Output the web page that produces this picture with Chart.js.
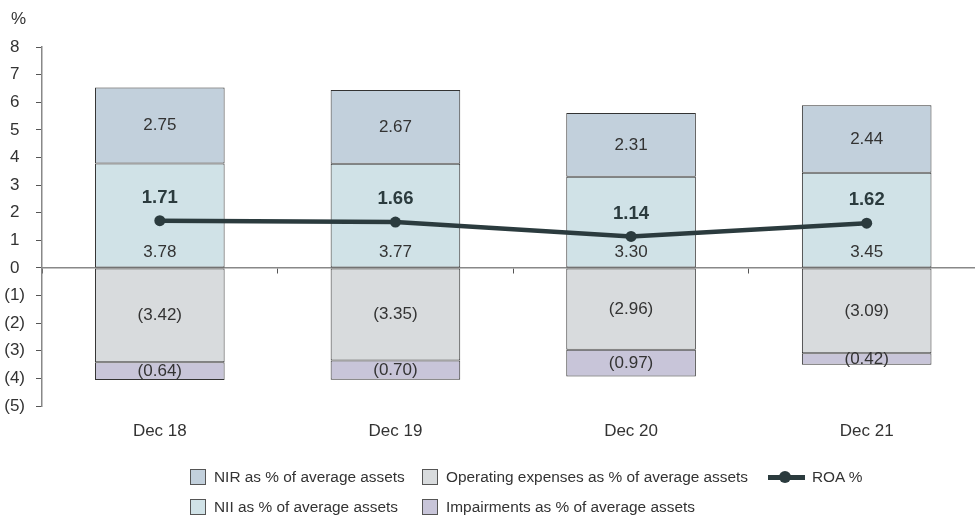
<!DOCTYPE html>
<html><head><meta charset="utf-8">
<script src="https://cdn.jsdelivr.net/npm/chart.js@4"></script>
<style>
html,body{margin:0;padding:0;overflow:hidden;background:#fff;width:975px;height:517px;position:relative}
#wrap{position:absolute;left:0;top:0;width:990px;height:517px}
.txt{position:absolute;font-family:'Liberation Sans',Arial,sans-serif;font-size:17px;color:#333;white-space:nowrap;line-height:18px}
.lgt{font-size:15.4px}
.box{position:absolute;width:16px;height:16px;border:1px solid #555;box-sizing:border-box}
.ln{position:absolute;height:5px}
.dot{position:absolute;width:12px;height:12px;border-radius:50%}
</style></head>
<body>
<div id="wrap"><canvas id="c" width="990" height="517"></canvas></div>
<div class="txt" style="left:11px;top:10px;">%</div>
<div id="legend"></div>
<script>
const categories = ['Dec 18', 'Dec 19', 'Dec 20', 'Dec 21'];
const niiValues = [3.78, 3.77, 3.30, 3.45];
const nirValues = [2.75, 2.67, 2.31, 2.44];
const opexValues = [-3.42, -3.35, -2.96, -3.09];
const impairmentValues = [-0.64, -0.70, -0.97, -0.42];
const roaValues = [1.71, 1.66, 1.14, 1.62];
const yMin = -5, yMax = 8;

const seriesNames = {
  nir: 'NIR as % of average assets',
  nii: 'NII as % of average assets',
  opex: 'Operating expenses as % of average assets',
  imp: 'Impairments as % of average assets',
  roa: 'ROA %'
};
const colors = {nir:'#c2d0dc', nii:'#d0e2e7', opex:'#d8dbdd', imp:'#c8c5d9', roa:'#2b3b3e'};
const FONT = "'Liberation Sans',Arial,sans-serif";

function fmt(v){ return v < 0 ? '(' + Math.abs(v).toFixed(2) + ')' : v.toFixed(2); }
function fmtTick(v){ return v < 0 ? '(' + Math.abs(v) + ')' : String(v); }

const labelPlugin = {
  id: 'segLabels',
  afterDatasetsDraw(chart){
    const ctx = chart.ctx;
    ctx.save();
    ctx.textAlign = 'center';
    ctx.textBaseline = 'middle';
    chart.data.datasets.forEach((ds, di) => {
      const meta = chart.getDatasetMeta(di);
      meta.data.forEach((el, i) => {
        const v = ds.data[i];
        const t = fmt(v);
        if (ds.type === 'line') {
          ctx.font = 'bold 18.5px ' + FONT;
          ctx.fillStyle = '#2b3b3e';
          ctx.fillText(t, el.x, el.y - 23);
        } else {
          ctx.font = '17px ' + FONT;
          ctx.fillStyle = '#333';
          if (ds.labelPos === 'bottom') ctx.fillText(t, el.x, el.base - 15);
          else ctx.fillText(t, el.x, (el.y + el.base) / 2);
        }
      });
    });
    ctx.restore();
  }
};

const barCommon = {type:'bar', borderColor:'#333', borderWidth:1, borderSkipped:false, barPercentage:0.55, categoryPercentage:1, stack:'s', order:2};

const chart = new Chart(document.getElementById('c'), {
  data: {
    labels: categories,
    datasets: [
      Object.assign({label: seriesNames.nii, data: niiValues, backgroundColor: colors.nii, labelPos:'bottom'}, barCommon),
      Object.assign({label: seriesNames.nir, data: nirValues, backgroundColor: colors.nir}, barCommon),
      Object.assign({label: seriesNames.opex, data: opexValues, backgroundColor: colors.opex}, barCommon),
      Object.assign({label: seriesNames.imp, data: impairmentValues, backgroundColor: colors.imp}, barCommon),
      {type:'line', label: seriesNames.roa, data: roaValues, borderColor: colors.roa, backgroundColor: colors.roa,
       borderWidth:4.5, pointRadius:5.5, pointHoverRadius:5.5, pointBackgroundColor: colors.roa, pointBorderWidth:0, order:0, tension:0}
    ]
  },
  options: {
    responsive: false,
    animation: false,
    events: [],
    layout: {padding: {top:47, right:2, left:0, bottom:0}},
    plugins: {legend:{display:false}, tooltip:{enabled:false}},
    scales: {
      x: {
        type:'category', position:'bottom', offset:true,
        grid:{display:false}, border:{display:false},
        ticks:{font:{family:FONT, size:17}, color:'#333', padding:7, maxRotation:0},
        afterFit(s){ s.height = 111; }
      },
      x0: {
        type:'category', axis:'x', position:{y:0}, offset:true,
        grid:{display:true, offset:true, drawOnChartArea:false, drawTicks:true, tickLength:5, color:'#555'},
        border:{display:true, color:'#888', width:1.5},
        ticks:{display:false}
      },
      y: {
        type:'linear', position:'left', min:yMin, max:yMax,
        grid:{display:true, drawOnChartArea:false, drawTicks:true, tickLength:6, color:'#555'},
        border:{display:true, color:'#888', width:1.5},
        ticks:{stepSize:1, crossAlign:'center', padding:11, color:'#333', font:{family:FONT, size:17}, callback:(v)=>fmtTick(v)},
        afterFit(s){ s.width = 42; }
      }
    }
  },
  plugins:[labelPlugin]
});

// HTML legend
const legendItems = [
  {key:'nir', x:190, y:477, kind:'box'},
  {key:'opex', x:422, y:477, kind:'box'},
  {key:'roa', x:768, y:477, kind:'line'},
  {key:'nii', x:190, y:507, kind:'box'},
  {key:'imp', x:422, y:507, kind:'box'}
];
const lg = document.getElementById('legend');
legendItems.forEach(it => {
  let html = '';
  if (it.kind === 'box') {
    html += '<div class="box" style="left:'+it.x+'px;top:'+(it.y-8)+'px;background:'+colors[it.key]+'"></div>';
    html += '<div class="txt lgt" style="left:'+(it.x+24)+'px;top:'+(it.y-9)+'px">'+seriesNames[it.key]+'</div>';
  } else {
    html += '<div class="ln" style="left:'+it.x+'px;width:37px;top:'+(it.y-2.5)+'px;background:'+colors.roa+'"></div>';
    html += '<div class="dot" style="left:'+(it.x+11)+'px;top:'+(it.y-6)+'px;background:'+colors.roa+'"></div>';
    html += '<div class="txt lgt" style="left:'+(it.x+44)+'px;top:'+(it.y-9)+'px">'+seriesNames[it.key]+'</div>';
  }
  lg.insertAdjacentHTML('beforeend', html);
});
</script>
</body></html>
